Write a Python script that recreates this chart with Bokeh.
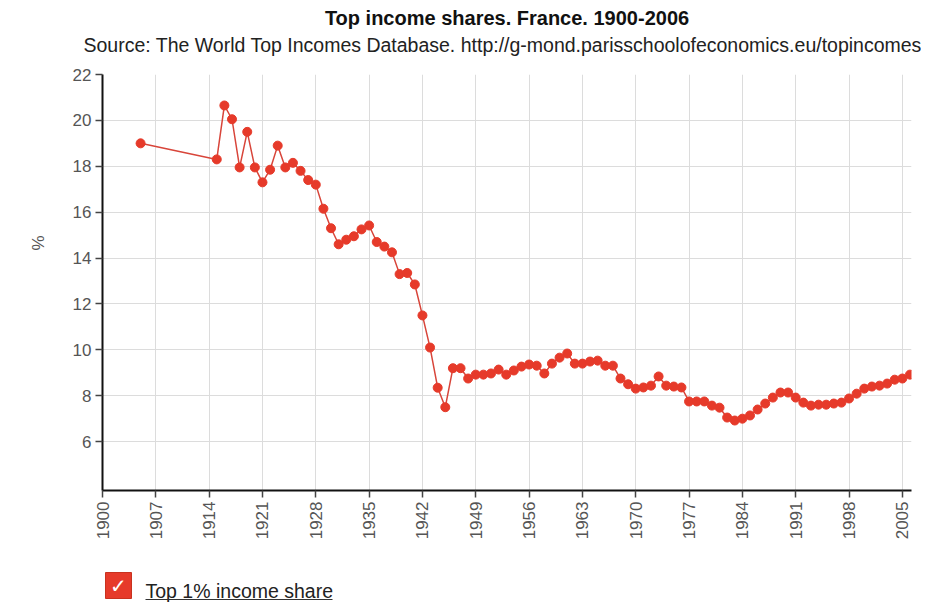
import math
from bokeh.plotting import figure
from bokeh.models import Range1d, FixedTicker, Title
from bokeh.layouts import column
from bokeh.core.properties import value
from bokeh.embed import file_html
from bokeh.resources import INLINE

# ---- data ----
title_text = "Top income shares. France. 1900-2006"
subtitle_text = "Source: The World Top Incomes Database. http://g-mond.parisschoolofeconomics.eu/topincomes"
y_label = "%"
series_name = "Top 1% income share"

years = [1905] + list(range(1915, 2007))
top1_share = [
    19.0,
    18.3, 20.65, 20.05, 17.95, 19.5, 17.95, 17.3, 17.85, 18.9, 17.95,
    18.15, 17.8, 17.4, 17.2, 16.15, 15.3, 14.6, 14.8, 14.95, 15.25,
    15.42, 14.7, 14.5, 14.25, 13.3, 13.35, 12.85, 11.5, 10.1, 8.35,
    7.5, 9.2, 9.2, 8.75, 8.92, 8.92, 8.97, 9.14, 8.92, 9.1,
    9.27, 9.36, 9.31, 8.97, 9.4, 9.66, 9.84, 9.4, 9.4, 9.49,
    9.53, 9.31, 9.31, 8.75, 8.5, 8.31, 8.36, 8.44, 8.84, 8.44,
    8.4, 8.36, 7.75, 7.75, 7.75, 7.57, 7.48, 7.05, 6.92, 7.0,
    7.14, 7.4, 7.66, 7.92, 8.14, 8.14, 7.92, 7.7, 7.57, 7.61,
    7.61, 7.66, 7.7, 7.88, 8.09, 8.31, 8.4, 8.44, 8.53, 8.7,
    8.75, 8.92,
]
x_ticks = list(range(1900, 2006, 7))
y_ticks = [6, 8, 10, 12, 14, 16, 18, 20, 22]

FONT = "Liberation Sans"
RED = "#e63a2a"
LINE_RED = "#d8453a"

W = 921
H_MAIN = 555
H_LEG = 48
LEFT, RIGHT = 102, 911

p = figure(width=W, height=H_MAIN, x_range=Range1d(1900, 2006.2), y_range=Range1d(3.87, 22),
           output_backend="svg", toolbar_location=None, title=None,
           min_border_left=LEFT, min_border_right=W - RIGHT, min_border_top=74,
           min_border_bottom=H_MAIN - 490)
p.outline_line_color = None

p.add_layout(Title(text=" ", text_font=FONT, text_font_size="12px", standoff=0), "above")
p.add_layout(Title(text=subtitle_text, align="left", offset=-19, text_font=FONT,
                   text_font_size="19.5px", text_font_style="normal", text_color="#222",
                   standoff=6), "above")
p.add_layout(Title(text=title_text, align="center", offset=-4, text_font=FONT,
                   text_font_size="20px", text_font_style="bold", text_color="#111",
                   standoff=0), "above")
p.add_layout(Title(text=y_label, align="left", offset=240, vertical_align="top",
                   text_baseline="top", text_font=FONT,
                   text_font_size="17px", text_font_style="normal", text_color="#555",
                   standoff=40), "left")

p.line(years, top1_share, line_color=LINE_RED, line_width=1.5)
p.scatter(years, top1_share, size=9, fill_color=RED, line_color=RED)

p.xaxis.ticker = FixedTicker(ticks=x_ticks)
p.yaxis.ticker = FixedTicker(ticks=y_ticks)
p.xgrid.ticker = FixedTicker(ticks=x_ticks)
p.ygrid.ticker = FixedTicker(ticks=y_ticks)
p.grid.grid_line_color = "#dcdcdc"
p.grid.grid_line_width = 1

for ax in (p.xaxis[0], p.yaxis[0]):
    ax.axis_line_color = "#111"
    ax.axis_line_width = 2
    ax.major_tick_line_color = "#444"
    ax.major_tick_line_width = 1.5
    ax.major_tick_in = 0
    ax.major_tick_out = 7
    ax.minor_tick_line_color = None
    ax.major_label_text_font = FONT
    ax.major_label_text_font_size = "17px"
    ax.major_label_text_color = "#555"
    ax.major_label_standoff = 4

p.xaxis.major_label_orientation = math.pi / 2

# ---- legend strip: frame aligned with the chart, data units = page pixels ----
lg = figure(width=W, height=H_LEG, x_range=Range1d(LEFT, RIGHT),
            y_range=Range1d(H_MAIN + H_LEG, H_MAIN),
            output_backend="svg", toolbar_location=None,
            min_border_left=LEFT, min_border_right=W - RIGHT, min_border_top=0,
            min_border_bottom=0, x_axis_location=None, y_axis_location=None)
lg.grid.visible = False
lg.outline_line_color = None
lg.rect(x=[118], y=[585], width=26, height=26, width_units="screen", height_units="screen",
        fill_color=RED, line_color="#c8321f")
lg.text(x=[118], y=[585], text=["\u2713"], text_color="white", text_font=value("DejaVu Sans"),
        text_font_size="20px", text_font_style="bold", text_align="center", text_baseline="middle")
lg.text(x=[145], y=[590], text=[series_name], text_color="#222", text_font=value(FONT),
        text_font_size="19.5px", text_baseline="middle")
lg.segment(x0=[145], y0=[599], x1=[332], y1=[599], line_color="#333", line_width=1)

layout = column(p, lg, spacing=0)
open("out.html", "w").write(file_html(layout, INLINE))
